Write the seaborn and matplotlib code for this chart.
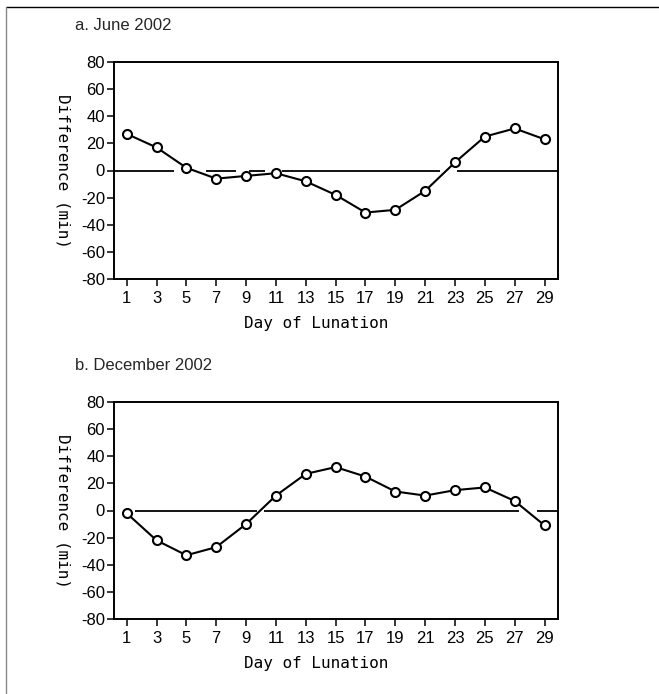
"""Difference vs day of lunation, June and December 2002 (two stacked panels)."""

import matplotlib

matplotlib.use("Agg")

import matplotlib.pyplot as plt  # noqa: E402
import pandas as pd  # noqa: E402
import seaborn as sns  # noqa: E402
from matplotlib.lines import Line2D  # noqa: E402

# --- Data ------------------------------------------------------------------
DAYS = [1, 3, 5, 7, 9, 11, 13, 15, 17, 19, 21, 23, 25, 27, 29]
JUNE_DIFF = [27, 17, 2, -6, -4, -2, -8, -18, -31, -29, -15, 6, 25, 31, 23]
DEC_DIFF = [-2, -22, -33, -27, -10, 11, 27, 32, 25, 14, 11, 15, 17, 7, -11]

PANEL_TITLES = ["a. June 2002", "b. December 2002"]
Y_TICKS = [-80, -60, -40, -20, 0, 20, 40, 60, 80]

# broken zero line (start, end) pieces in day units
JUNE_ZERO_START = [0.0, 6.3, 9.2, 11.4, 23.1]
JUNE_ZERO_END = [4.2, 8.35, 10.25, 22.0, 30.0]
DEC_ZERO_START = [1.55, 10.2, 28.5]
DEC_ZERO_END = [9.7, 27.3, 30.0]

sns.set_theme(style="ticks")
plt.rcParams["font.family"] = ["Liberation Sans", "DejaVu Sans"]
plt.rcParams["axes.unicode_minus"] = False

fig = plt.figure(figsize=(6.59, 6.94), dpi=100)

W, H = 659, 694


def _axes_rect(left, top, right, bottom):
    return [left / W, 1 - bottom / H, (right - left) / W, (bottom - top) / H]


panels = [
    (JUNE_DIFF, JUNE_ZERO_START, JUNE_ZERO_END, _axes_rect(114, 62, 558, 279), 25),
    (DEC_DIFF, DEC_ZERO_START, DEC_ZERO_END, _axes_rect(114, 402, 558, 619), 366),
]

mono = "DejaVu Sans Mono"

for (values, z0, z1, rect, title_y), title in zip(panels, PANEL_TITLES):
    ax = fig.add_axes(rect)
    df = pd.DataFrame({"day": DAYS, "diff": values})

    ax.hlines([0] * len(z0), z0, z1, color="black", linewidth=1.3, zorder=1)
    sns.lineplot(
        data=df,
        x="day",
        y="diff",
        ax=ax,
        color="black",
        linewidth=1.5,
        marker="o",
        markersize=6.5,
        markerfacecolor="white",
        markeredgecolor="black",
        markeredgewidth=1.5,
        zorder=3,
    )

    ax.set_xlim(0.15, 29.9)
    ax.set_ylim(-80, 80)
    ax.set_xticks(DAYS)
    ax.set_yticks(Y_TICKS)
    ax.tick_params(axis="both", direction="out", length=5, width=1.1,
                   labelsize=12, pad=1.5, color="black", labelcolor="black")
    ax.tick_params(axis="x", pad=3.5)
    for spine in ax.spines.values():
        spine.set_visible(True)
        spine.set_color("black")
        spine.set_linewidth(1.4)

    ax.set_xlabel("Day of Lunation", fontfamily=mono, fontsize=11.5, color="black")
    ax.xaxis.set_label_coords(0.455, -0.17)
    ax.set_ylabel("Difference (min)", fontfamily=mono, fontsize=11.5,
                  rotation=270, color="black", va="center")
    ax.yaxis.set_label_coords(-0.115, 0.5)

    fig.text(75 / W, 1 - title_y / H, title, fontsize=12, va="center", ha="left")

# page frame: top and left rules
fig.add_artist(Line2D([6 / W, 1], [1 - 7 / H, 1 - 7 / H], color="black", linewidth=1.0))
fig.add_artist(Line2D([6 / W, 6 / W], [0, 1 - 7 / H], color="#888888", linewidth=1.0))

fig.savefig("out.png", dpi=100, facecolor="white")
plt.close(fig)
